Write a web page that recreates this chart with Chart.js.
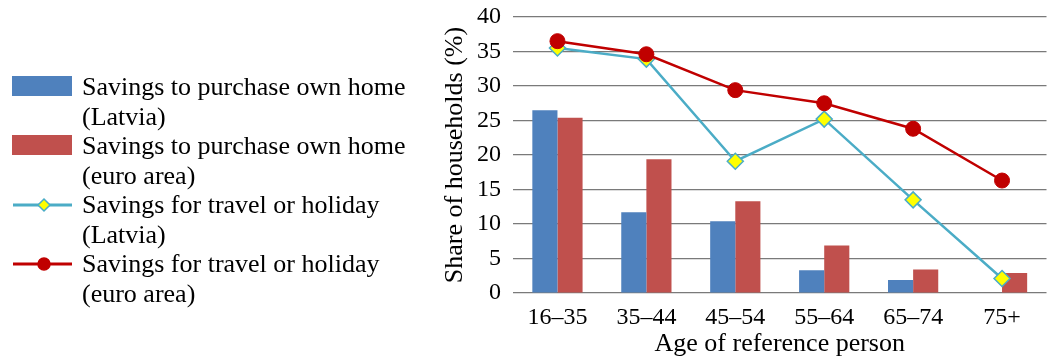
<!DOCTYPE html>
<html>
<head>
<meta charset="utf-8">
<script src="https://cdn.jsdelivr.net/npm/chart.js@4"></script>
<style>
  html, body { margin: 0; padding: 0; background: #fff; }
  #wrap { width: 1056px; height: 360px; position: relative; }
</style>
</head>
<body>
<div id="wrap"><canvas id="chart" width="1056" height="360"></canvas></div>
<script>
const ageGroups = ['16–35', '35–44', '45–54', '55–64', '65–74', '75+'];
const homeLatvia = [26.5, 11.7, 10.4, 3.3, 1.9, null];
const homeEuro = [25.4, 19.4, 13.3, 6.9, 3.4, 2.9];
const travelLatvia = [35.5, 33.9, 19.1, 25.2, 13.5, 2.1];
const travelEuro = [36.5, 34.6, 29.4, 27.5, 23.8, 16.3];
const seriesLabels = [
    ['Savings to purchase own home', '(Latvia)'],
    ['Savings to purchase own home', '(euro area)'],
    ['Savings for travel or holiday', '(Latvia)'],
    ['Savings for travel or holiday', '(euro area)']
];

const serif = 'Liberation Serif';

// legend on the left, two lines per item
const sideLegend = {
    id: 'sideLegend',
    afterDraw(chart) {
        const ctx = chart.ctx;
        ctx.save();
        ctx.font = `26px "${serif}"`;
        ctx.textBaseline = 'middle';
        ctx.fillStyle = '#000';
        chart.data.datasets.forEach((ds, i) => {
            const y = 88 + i * 59;
            if (ds.type === 'bar') {
                ctx.fillStyle = ds.backgroundColor;
                ctx.fillRect(12, y - 12, 60, 20);
            } else {
                ctx.strokeStyle = ds.borderColor;
                ctx.lineWidth = 3;
                ctx.beginPath();
                ctx.moveTo(13, y - 1);
                ctx.lineTo(72, y - 1);
                ctx.stroke();
                ctx.fillStyle = ds.pointBackgroundColor;
                ctx.strokeStyle = ds.pointBorderColor;
                ctx.lineWidth = 1.5;
                ctx.beginPath();
                if (ds.pointStyle === 'rectRot') {
                    ctx.moveTo(44, y - 7);
                    ctx.lineTo(50, y - 1);
                    ctx.lineTo(44, y + 5);
                    ctx.lineTo(38, y - 1);
                    ctx.closePath();
                } else {
                    ctx.arc(44, y - 1, 6, 0, Math.PI * 2);
                }
                ctx.fill();
                ctx.stroke();
            }
            ctx.fillStyle = '#000';
            seriesLabels[i].forEach((t, j) => ctx.fillText(t, 82, y + j * 30));
        });
        ctx.restore();
    }
};

new Chart(document.getElementById('chart'), {
    data: {
        labels: ageGroups,
        datasets: [{
            type: 'bar',
            label: seriesLabels[0].join(' '),
            data: homeLatvia,
            backgroundColor: '#4F81BD',
            order: 2,
            categoryPercentage: 0.565,
            barPercentage: 1
        }, {
            type: 'bar',
            label: seriesLabels[1].join(' '),
            data: homeEuro,
            backgroundColor: '#C0504D',
            order: 3,
            categoryPercentage: 0.565,
            barPercentage: 1
        }, {
            type: 'line',
            label: seriesLabels[2].join(' '),
            data: travelLatvia,
            borderColor: '#4BACC6',
            borderWidth: 2.5,
            pointStyle: 'rectRot',
            pointRadius: 8,
            pointBackgroundColor: '#FFFF00',
            pointBorderColor: '#4BACC6',
            pointBorderWidth: 1.5,
            tension: 0,
            order: 1
        }, {
            type: 'line',
            label: seriesLabels[3].join(' '),
            data: travelEuro,
            borderColor: '#C00000',
            borderWidth: 2.5,
            pointStyle: 'circle',
            pointRadius: 7.5,
            pointBackgroundColor: '#C00000',
            pointBorderColor: '#C00000',
            pointBorderWidth: 1,
            tension: 0,
            order: 0
        }]
    },
    options: {
        responsive: false,
        animation: false,
        layout: { padding: { left: 440, right: 1, top: 17, bottom: 0 } },
        plugins: {
            legend: { display: false },
            tooltip: { enabled: false }
        },
        scales: {
            x: {
                grid: { display: false },
                border: { display: false },
                ticks: {
                    color: '#000',
                    font: { family: serif, size: 24 },
                    padding: 2,
                    maxRotation: 0
                },
                title: {
                    display: true,
                    text: 'Age of reference person',
                    color: '#000',
                    font: { family: serif, size: 26 },
                    padding: { top: 0, bottom: 0 }
                },
                afterFit: s => { s.height = 67; s.paddingLeft = 0; s.paddingRight = 0; }
            },
            y: {
                min: 0,
                max: 40,
                ticks: {
                    stepSize: 5,
                    color: '#000',
                    font: { family: serif, size: 24 },
                    padding: 12
                },
                grid: { color: '#7a7a7a', lineWidth: 1.2, drawTicks: false },
                border: { display: false },
                title: {
                    display: true,
                    text: 'Share of households (%)',
                    color: '#000',
                    font: { family: serif, size: 26 },
                    padding: { top: 0, bottom: 0 }
                },
                afterFit: s => { s.width = 73; s.paddingTop = 0; s.paddingBottom = 0; }
            }
        }
    },
    plugins: [sideLegend]
});
</script>
</body>
</html>
